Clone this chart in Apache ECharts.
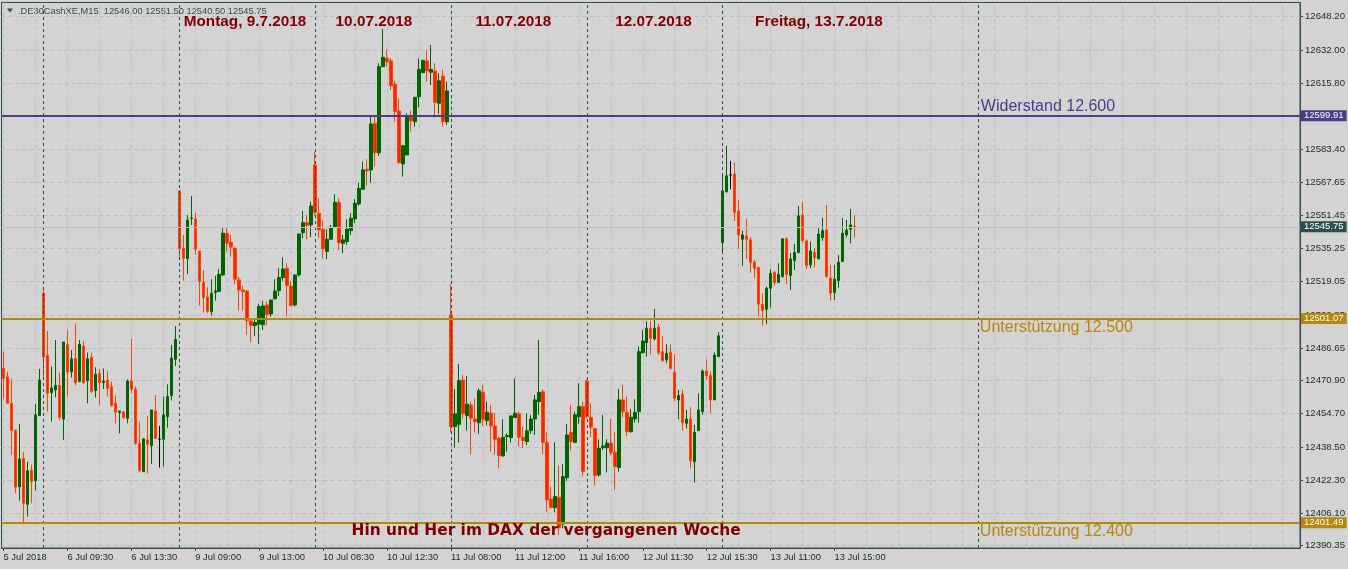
<!DOCTYPE html>
<html>
<head>
<meta charset="utf-8">
<script src="https://cdn.jsdelivr.net/npm/echarts@6/dist/echarts.min.js"></script>
<style>
html,body{margin:0;padding:0;background:#D3D3D3;}
#chart{width:1348px;height:569px;}
</style>
</head>
<body>
<div id="chart"></div>
<script>
// ---- data (M15 candles, .DE30CashXE) ----
const opens = [
12476.8,12472.7,12459.7,12446.7,12419.1,12432.9,12410.5,12427.1,12422.0,12453.7,
12513.4,12483.1,12464.9,12466.2,12468.5,12452.0,12488.5,12475.0,12481.7,12470.3,
12487.7,12470.8,12482.2,12465.9,12474.4,12469.8,12471.1,12467.9,12459.9,12455.2,
12455.5,12452.4,12470.6,12466.6,12440.3,12426.4,12441.9,12439.1,12456.0,12442.2,
12442.2,12453.2,12463.5,12481.2,12563.2,12535.3,12530.3,12549.8,12549.6,12534.0,
12518.7,12511.6,12504.4,12513.7,12514.2,12522.3,12542.6,12538.2,12535.3,12519.9,
12515.0,12514.5,12499.9,12497.6,12498.3,12498.0,12507.7,12503.3,12510.6,12514.7,
12521.0,12525.6,12516.9,12507.7,12522.3,12542.9,12547.8,12546.7,12575.9,12552.4,
12544.6,12533.7,12539.7,12545.9,12557.7,12537.7,12538.6,12543.9,12549.6,12556.9,
12564.1,12573.8,12573.5,12596.2,12581.9,12623.8,12627.9,12626.6,12615.2,12602.2,
12576.4,12580.8,12599.5,12597.0,12609.2,12620.9,12626.6,12621.1,12621.7,12606.0,
12619.3,12597.0,12502.8,12448.4,12449.5,12471.1,12453.7,12458.9,12452.1,12450.3,
12465.1,12451.3,12454.9,12448.7,12442.7,12434.1,12443.5,12443.0,12452.8,12454.6,
12443.2,12441.1,12446.4,12452.1,12460.6,12465.4,12440.6,12413.1,12408.9,12413.9,
12400.9,12423.5,12445.6,12440.6,12453.2,12458.1,12470.6,12452.9,12447.5,12424.8,
12438.1,12438.1,12440.3,12435.9,12428.4,12461.4,12455.3,12445.9,12452.1,12455.7,
12484.4,12489.3,12496.3,12491.1,12496.8,12484.9,12480.9,12484.6,12474.9,12461.4,
12464.1,12450.0,12452.1,12431.3,12446.4,12455.7,12475.5,12473.2,12461.4,12482.5,
12538.1,12562.9,12571.0,12571.5,12553.5,12539.7,12541.3,12539.4,12528.5,12526.0,
12508.0,12505.6,12515.8,12523.6,12518.6,12521.5,12539.9,12522.0,12529.3,12533.2,
12551.5,12538.9,12527.2,12533.3,12530.1,12540.5,12544.2,12520.7,12513.7,12519.5,
12528.8,12541.8,12544.6,12546.00
];
const highs = [
12484.9,12475.2,12471.6,12446.7,12449.7,12435.9,12431.3,12430.0,12459.4,12476.5,
12515.0,12495.0,12477.6,12490.6,12474.7,12489.6,12495.5,12485.7,12498.7,12490.6,
12490.1,12484.4,12484.4,12477.3,12476.5,12476.8,12475.7,12470.3,12463.6,12456.0,
12456.0,12471.4,12491.1,12467.9,12450.8,12442.4,12453.7,12456.5,12463.8,12448.7,
12463.0,12469.0,12488.2,12497.4,12563.7,12541.8,12551.5,12560.8,12552.7,12534.0,
12524.7,12516.3,12520.2,12522.0,12525.1,12545.1,12545.1,12541.8,12535.8,12521.5,
12516.9,12514.5,12501.2,12501.2,12508.2,12509.8,12509.4,12510.1,12520.2,12525.6,
12530.9,12528.0,12519.1,12522.3,12542.3,12553.5,12551.5,12558.1,12582.4,12559.7,
12549.1,12544.6,12546.7,12561.6,12559.7,12541.8,12549.4,12552.4,12559.3,12567.3,
12577.5,12578.7,12599.5,12599.5,12625.5,12642.2,12632.3,12627.9,12616.9,12608.4,
12585.6,12601.1,12602.4,12608.9,12627.9,12627.4,12632.0,12634.4,12625.5,12620.6,
12622.2,12616.5,12517.7,12466.7,12478.9,12473.6,12473.1,12460.6,12462.2,12467.0,
12468.7,12460.6,12458.9,12454.9,12443.5,12452.0,12445.1,12453.6,12471.9,12455.7,
12448.4,12454.9,12454.1,12463.8,12490.6,12466.6,12445.6,12419.1,12440.7,12429.4,
12430.0,12449.7,12458.9,12455.7,12469.5,12460.6,12471.4,12459.7,12447.5,12442.2,
12454.1,12442.2,12452.1,12445.6,12466.7,12468.7,12463.0,12457.0,12461.7,12487.4,
12495.5,12499.6,12499.9,12505.7,12498.4,12492.6,12488.5,12488.5,12483.8,12466.2,
12466.2,12456.5,12457.8,12449.2,12464.6,12476.3,12481.2,12475.2,12484.6,12494.4,
12571.0,12585.2,12577.9,12577.1,12558.9,12543.9,12549.6,12540.7,12529.6,12526.3,
12513.4,12516.6,12525.1,12524.2,12528.0,12540.2,12540.7,12532.9,12537.4,12555.9,
12558.0,12539.7,12538.5,12535.3,12545.4,12550.2,12556.4,12527.2,12527.2,12532.0,
12549.9,12549.1,12554.5,12551.50
];
const lows = [
12462.2,12459.4,12434.6,12415.9,12412.3,12401.3,12404.5,12411.0,12417.2,12453.7,
12472.7,12455.7,12450.8,12462.7,12451.3,12441.9,12463.0,12472.3,12468.5,12470.3,
12469.0,12459.7,12464.9,12462.5,12458.9,12466.6,12463.0,12458.1,12450.0,12445.1,
12452.0,12450.0,12464.6,12439.4,12426.0,12426.4,12425.6,12430.2,12442.2,12428.4,
12428.9,12447.9,12461.1,12477.9,12530.4,12519.5,12522.8,12546.7,12532.1,12507.4,
12504.1,12503.6,12502.5,12509.8,12514.2,12521.8,12533.7,12531.2,12517.9,12504.9,
12504.9,12493.1,12489.3,12492.6,12488.7,12495.5,12497.6,12502.0,12510.6,12512.1,
12519.5,12502.0,12506.9,12506.9,12521.5,12540.2,12539.7,12540.7,12551.1,12540.2,
12530.4,12530.0,12539.4,12545.9,12534.5,12532.9,12536.9,12541.8,12547.5,12556.1,
12563.8,12565.8,12567.3,12575.1,12580.3,12623.8,12623.8,12612.5,12597.0,12576.4,
12570.2,12580.8,12592.2,12594.6,12604.0,12620.9,12616.5,12614.9,12599.1,12600.8,
12594.6,12595.4,12445.5,12438.1,12440.6,12452.0,12446.4,12434.6,12445.5,12444.8,
12448.7,12448.9,12436.2,12434.6,12428.1,12433.7,12436.2,12440.6,12452.8,12438.6,
12437.8,12439.4,12444.8,12444.3,12454.1,12434.9,12406.9,12408.6,12406.6,12395.6,
12398.8,12421.9,12436.7,12440.6,12449.7,12424.0,12452.5,12443.2,12419.6,12424.0,
12437.0,12426.1,12434.5,12417.5,12426.4,12452.9,12443.5,12445.4,12450.3,12450.3,
12484.1,12482.5,12483.6,12490.3,12483.3,12480.0,12479.2,12476.0,12460.6,12451.9,
12446.3,12447.5,12428.0,12421.1,12446.4,12454.1,12471.1,12454.9,12461.4,12482.5,
12532.9,12562.4,12564.1,12548.6,12535.0,12526.7,12530.1,12523.4,12520.7,12502.0,
12497.6,12498.3,12506.4,12517.1,12518.6,12521.0,12517.8,12515.0,12524.7,12532.9,
12538.1,12525.2,12525.6,12525.9,12530.1,12538.9,12520.9,12509.8,12510.1,12516.1,
12528.8,12540.5,12537.7,12540.50
];
const closes = [
12471.9,12459.7,12446.4,12418.8,12432.6,12411.0,12426.8,12421.6,12454.1,12471.1,
12482.2,12464.6,12467.2,12468.5,12452.9,12489.6,12474.9,12481.4,12469.8,12488.5,
12469.8,12481.4,12465.4,12473.9,12469.8,12470.6,12466.9,12458.6,12455.4,12456.0,
12452.8,12470.6,12466.6,12440.3,12426.8,12442.4,12439.8,12456.5,12442.7,12442.2,
12454.1,12463.0,12481.7,12490.9,12535.1,12530.4,12549.1,12550.1,12534.8,12519.1,
12511.3,12504.6,12513.4,12514.5,12522.6,12542.6,12537.7,12535.8,12520.2,12515.0,
12514.2,12500.0,12497.6,12499.1,12506.9,12507.2,12503.1,12510.1,12514.5,12521.0,
12525.2,12517.1,12507.4,12522.3,12542.3,12547.8,12546.4,12555.9,12552.7,12544.2,
12535.1,12539.7,12545.5,12557.7,12538.1,12539.4,12544.6,12549.9,12557.2,12564.5,
12573.5,12573.0,12595.9,12581.9,12623.8,12628.4,12626.3,12614.6,12601.9,12577.1,
12585.3,12599.5,12597.4,12608.9,12622.5,12626.8,12621.7,12622.5,12606.5,12616.9,
12597.0,12612.0,12448.4,12454.6,12470.8,12454.6,12459.3,12452.4,12450.8,12465.8,
12452.0,12455.4,12448.7,12442.2,12434.2,12443.2,12444.0,12453.6,12454.9,12443.2,
12441.5,12446.3,12452.1,12461.4,12465.1,12440.6,12412.6,12408.9,12414.3,12399.0,
12424.0,12444.3,12441.1,12454.1,12458.1,12426.4,12453.2,12448.1,12424.5,12437.8,
12438.9,12440.3,12435.7,12428.9,12461.4,12455.7,12445.9,12452.9,12455.3,12484.9,
12490.1,12496.3,12491.4,12496.3,12484.4,12480.5,12484.1,12476.8,12462.2,12463.5,
12450.3,12452.1,12431.8,12445.6,12456.5,12475.5,12473.2,12461.4,12483.3,12492.6,
12563.2,12570.6,12571.0,12552.7,12541.8,12541.8,12539.7,12528.3,12525.5,12508.0,
12504.9,12515.8,12523.1,12518.6,12522.6,12539.9,12522.6,12530.1,12533.2,12551.1,
12539.0,12526.9,12534.0,12530.8,12542.3,12543.9,12521.5,12513.4,12520.2,12528.5,
12542.6,12544.2,12546.7,12545.75
];
const totalBars = 325;            // chart width in 15-minute slots (incl. empty right shift)
const xTickLabels = ['5 Jul 2018','6 Jul 09:30','6 Jul 13:30','9 Jul 09:00','9 Jul 13:00',
  '10 Jul 08:30','10 Jul 12:30','11 Jul 08:00','11 Jul 12:00','11 Jul 16:00',
  '12 Jul 11:30','12 Jul 15:30','13 Jul 11:00','13 Jul 15:00'];
const xLabelEvery = 16;
const xGridEvery = 8;
const yTicks = [12648.20,12632.00,12615.80,12599.60,12583.40,12567.65,12551.45,12535.25,
  12519.05,12502.85,12486.65,12470.90,12454.70,12438.50,12422.30,12406.10,12390.35];
const yMin = 12389.2, yMax = 12655.1;
const daySeparatorBars = [10, 44, 78, 112, 146, 180, 244];
const resistance = 12599.91;
const support1 = 12501.07;
const support2 = 12401.49;
const lastPrice = 12545.75;
const levelTextBar = 244;
const levelTexts = ['Widerstand 12.600','Unterstützung 12.500','Unterstützung 12.400'];
const annotationTexts = ['Montag, 9.7.2018','10.07.2018','11.07.2018','12.07.2018','Freitag, 13.7.2018'];
const annotationBars = [45, 83, 118, 153, 188];
const annotationPrice = 12645.6;
const titleText = 'Hin und Her im DAX der vergangenen Woche';
const titleBar = 87, titlePrice = 12397.5;
const headerText = '.DE30CashXE,M15  12546.00 12551.50 12540.50 12545.75';

// ---- build ----
const cats = Array.from({length: totalBars}, (_, i) => i);
const candles = opens.map((o, i) => [o, closes[i], lows[i], highs[i]]);
const AXIS_FONT = '"Liberation Sans", Arial, sans-serif';
const DARK = '#2F4F4F';
const MAROON = '#800000';

const gridLines = yTicks.map(v => ({yAxis: v}));
for (let i = 0; i < totalBars; i += xGridEvery) gridLines.push({xAxis: i});

function boxLabel(bg) {
  return {show: true, position: 'end', distance: 1, formatter: p => p.value.toFixed(2),
    backgroundColor: bg, color: '#ffffff', padding: [1, 3, 0, 3],
    fontFamily: AXIS_FONT, fontSize: 9.5};
}

const markLines = [];
daySeparatorBars.forEach(b => markLines.push({xAxis: b, lineStyle: {color: DARK, type: [3, 3], width: 1}, label: {show: false}}));
markLines.push({yAxis: lastPrice, lineStyle: {color: '#BEBEBE', width: 1, type: 'solid'}, label: boxLabel(DARK)});
markLines.push({yAxis: resistance, lineStyle: {color: '#483D8B', width: 2, type: 'solid'}, label: boxLabel('#483D8B')});
markLines.push({yAxis: support1, lineStyle: {color: '#B8860B', width: 2, type: 'solid'}, label: boxLabel('#B8860B')});
markLines.push({yAxis: support2, lineStyle: {color: '#B8860B', width: 2, type: 'solid'}, label: boxLabel('#B8860B')});

function pointText(bar, price, text, color, font, weight, size, dx, dy) {
  return {coord: [bar, price],
    label: {show: true, position: 'right', distance: 0, offset: [dx, dy], formatter: text, color: color,
      fontFamily: font, fontWeight: weight, fontSize: size}};
}
const markPoints = annotationTexts.map((t, i) =>
  pointText(annotationBars[i], annotationPrice, t, MAROON, AXIS_FONT, 'bold', 15.3, 0, 0));
markPoints.push(pointText(titleBar, titlePrice, titleText, MAROON, '"DejaVu Sans", Verdana, sans-serif', 'bold', 15.4, 0, 0));
markPoints.push(pointText(levelTextBar, resistance, levelTexts[0], '#483D8B', AXIS_FONT, 'normal', 16, 2, -9));
markPoints.push(pointText(levelTextBar, support1, levelTexts[1], '#B8860B', AXIS_FONT, 'normal', 16, 1, 9));
markPoints.push(pointText(levelTextBar, support2, levelTexts[2], '#B8860B', AXIS_FONT, 'normal', 16, 1, 9));

const xInterval = (index) => index % xLabelEvery === 0 && index / xLabelEvery < xTickLabels.length;

const chart = echarts.init(document.getElementById('chart'), null, {renderer: 'canvas'});
chart.setOption({
  backgroundColor: '#D3D3D3',
  animation: false,
  grid: {left: 1.5, top: 2.5, width: 1300, height: 545.5, show: true, borderColor: DARK, borderWidth: 1, backgroundColor: 'transparent'},
  xAxis: {
    type: 'category', data: cats, boundaryGap: true,
    axisLine: {show: true, lineStyle: {color: DARK, width: 1}},
    axisTick: {show: true, alignWithLabel: true, interval: xInterval, length: 3, lineStyle: {color: DARK}},
    axisLabel: {interval: xInterval, formatter: (v, i) => xTickLabels[i / xLabelEvery] || '',
      align: 'left', margin: 5, fontFamily: AXIS_FONT, fontSize: 9.4, color: '#222c2c'},
    splitLine: {show: false}
  },
  yAxis: {
    type: 'value', position: 'right', min: yMin, max: yMax,
    axisLine: {show: true, lineStyle: {color: DARK, width: 1}},
    axisTick: {show: true, length: 3, customValues: yTicks, lineStyle: {color: DARK}},
    axisLabel: {customValues: yTicks, formatter: v => v.toFixed(2), margin: 5,
      fontFamily: AXIS_FONT, fontSize: 9.6, color: '#222c2c'},
    splitLine: {show: false}
  },
  graphic: [
    {type: 'polygon', shape: {points: [[7, 8.5], [13, 8.5], [10, 12.5]]}, style: {fill: DARK}},
    {type: 'text', x: 18, y: 11, style: {text: headerText, fill: DARK, font: '9.3px "Liberation Sans", Arial, sans-serif', verticalAlign: 'middle'}}
  ],
  series: [
    {
      type: 'line', data: [], silent: true,
      markLine: {z: 1, silent: true, symbol: 'none', animation: false, label: {show: false},
        lineStyle: {color: '#BDBDBD', type: [4, 3], width: 1}, data: gridLines}
    },
    {
      type: 'candlestick', data: candles, barWidth: 3,
      itemStyle: {color: '#006400', color0: '#FF2200', borderColor: '#006400', borderColor0: '#FF4500',
        borderColorDoji: '#000000', borderWidth: 1},
      markLine: {silent: true, symbol: 'none', animation: false, data: markLines},
      markPoint: {silent: true, symbol: 'circle', symbolSize: 1, itemStyle: {color: 'rgba(0,0,0,0)'},
        animation: false, data: markPoints}
    }
  ]
});
</script>
</body>
</html>
